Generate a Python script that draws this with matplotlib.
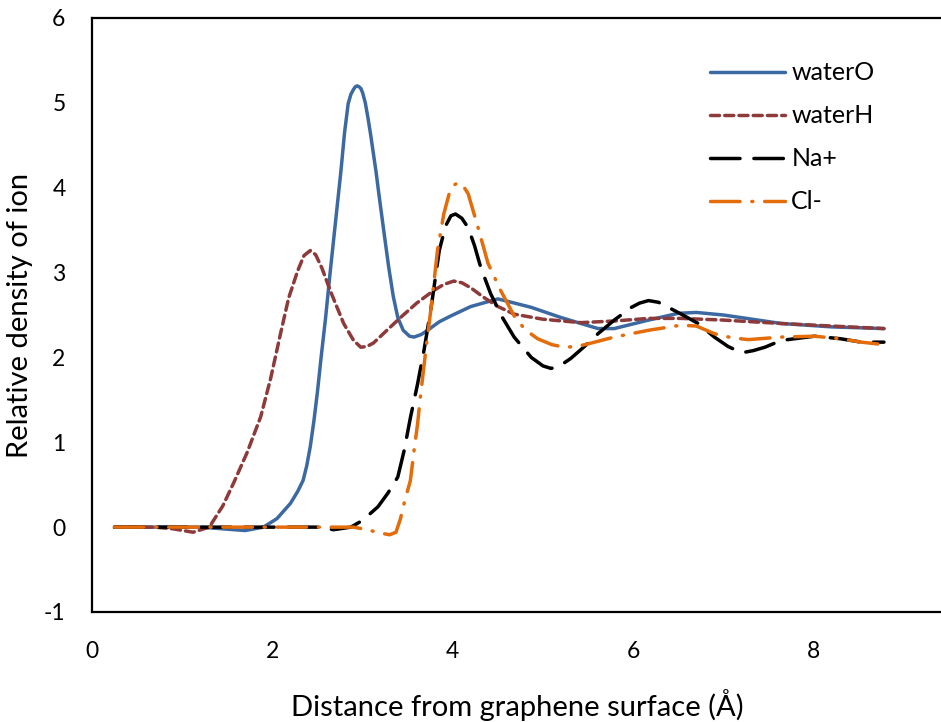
import matplotlib
matplotlib.use("Agg")
import matplotlib.pyplot as plt

plt.rcParams['font.family'] = ['Lato', 'DejaVu Sans']
plt.rcParams['axes.unicode_minus'] = False

# distance from graphene surface (Angstrom) and relative density for each species
water_o_x = [0.25, 0.8, 1.2, 1.45, 1.7, 1.9, 2.05, 2.2, 2.28, 2.34, 2.38, 2.42, 2.46, 2.5,
             2.54, 2.59, 2.64, 2.68, 2.72, 2.76, 2.8, 2.84, 2.87, 2.9, 2.92, 2.94, 2.96,
             2.98, 3.0, 3.03, 3.06, 3.09, 3.12, 3.15, 3.18, 3.24, 3.29, 3.34, 3.39, 3.45,
             3.52, 3.57, 3.65, 3.72, 3.85, 3.98, 4.2, 4.5, 4.87, 5.2, 5.42, 5.61, 5.79,
             6.17, 6.5, 6.7, 7.0, 7.64, 8.2, 8.78]
water_o_y = [0, 0, 0, -0.02, -0.04, 0.0, 0.1, 0.28, 0.42, 0.55, 0.72, 0.95, 1.25, 1.6,
             2.0, 2.47, 3.0, 3.4, 3.8, 4.2, 4.65, 4.99, 5.1, 5.16, 5.19, 5.2, 5.19,
             5.17, 5.12, 5.0, 4.82, 4.62, 4.4, 4.18, 3.93, 3.45, 3.06, 2.72, 2.47, 2.32,
             2.25, 2.24, 2.27, 2.32, 2.42, 2.49, 2.6, 2.69, 2.59, 2.47, 2.4, 2.34, 2.34,
             2.44, 2.52, 2.53, 2.5, 2.4, 2.36, 2.34]

water_h_x = [0.25, 0.7, 0.9, 1.12, 1.3, 1.45, 1.57, 1.72, 1.87, 1.98, 2.09, 2.18, 2.28,
             2.35, 2.42, 2.48, 2.55, 2.64, 2.79, 2.9, 2.98, 3.05, 3.12, 3.25, 3.42, 3.6,
             3.79, 3.9, 4.01, 4.1, 4.2, 4.34, 4.5, 4.68, 5.0, 5.42, 5.8, 6.17, 6.53, 7.0,
             7.64, 8.2, 8.78]
water_h_y = [0, 0, -0.02, -0.06, 0.0, 0.25, 0.52, 0.88, 1.3, 1.75, 2.28, 2.7, 3.02,
             3.2, 3.26, 3.21, 3.05, 2.79, 2.4, 2.2, 2.12, 2.13, 2.17, 2.3, 2.47, 2.64,
             2.79, 2.86, 2.9, 2.88, 2.82, 2.71, 2.6, 2.51, 2.45, 2.41, 2.43, 2.46, 2.46,
             2.44, 2.4, 2.37, 2.34]

na_x = [0.25, 1.0, 2.0, 2.5, 2.68, 2.87, 3.0, 3.17, 3.28, 3.39, 3.46, 3.53, 3.61, 3.68,
        3.76, 3.85, 3.92, 3.98, 4.03, 4.1, 4.17, 4.24, 4.31, 4.42, 4.55, 4.68, 4.87,
        5.0, 5.09, 5.2, 5.31, 5.45, 5.61, 5.79, 5.98, 6.07, 6.17, 6.28, 6.39, 6.55,
        6.72, 6.9, 7.05, 7.15, 7.23, 7.33, 7.46, 7.64, 8.01, 8.3, 8.53, 8.78]
na_y = [0, 0, 0, 0, -0.03, 0.0, 0.08, 0.24, 0.4, 0.59, 0.9, 1.29, 1.69, 2.08,
        2.59, 3.26, 3.55, 3.67, 3.69, 3.64, 3.53, 3.32, 3.06, 2.75, 2.47, 2.24, 2.0,
        1.9, 1.87, 1.91, 1.99, 2.12, 2.28, 2.44, 2.59, 2.64, 2.67, 2.65, 2.59, 2.5,
        2.4, 2.24, 2.13, 2.08, 2.06, 2.08, 2.12, 2.2, 2.25, 2.22, 2.18, 2.18]

cl_x = [0.25, 1.0, 2.0, 2.9, 3.05, 3.2, 3.3, 3.37, 3.42, 3.46, 3.53, 3.57, 3.61, 3.64,
        3.7, 3.76, 3.83, 3.9, 3.96, 4.01, 4.06, 4.11, 4.17, 4.28, 4.39, 4.53, 4.68,
        4.8, 4.94, 5.1, 5.24, 5.38, 5.5, 5.79, 6.17, 6.53, 6.7, 6.9, 7.1, 7.28, 7.64,
        8.01, 8.3, 8.53, 8.78]
cl_y = [0, 0, 0, 0, -0.03, -0.07, -0.09, -0.06, 0.1, 0.28, 0.55, 0.9, 1.22, 1.53,
        2.08, 2.59, 3.26, 3.69, 3.93, 4.03, 4.06, 4.03, 3.93, 3.53, 3.11, 2.79, 2.49,
        2.33, 2.22, 2.15, 2.12, 2.13, 2.16, 2.24, 2.32, 2.38, 2.37, 2.28, 2.23, 2.21,
        2.24, 2.25, 2.22, 2.18, 2.15]

x_ticks = [0, 2, 4, 6, 8]
y_ticks = [-1, 0, 1, 2, 3, 4, 5, 6]

fig = plt.figure(figsize=(9.41, 7.22), dpi=100)
ax = fig.add_axes([92 / 941, 1 - 612 / 722, 1 - 92 / 941 + 0.002, (612 - 18) / 722])

lw = 2.5
ax.plot(water_o_x, water_o_y, color='#3C69A2', lw=lw, label='waterO',
        solid_capstyle='round', solid_joinstyle='round')
ax.plot(water_h_x, water_h_y, color='#8E3A3A', lw=lw, label='waterH',
        linestyle=(0, (2.6, 1.5)), dash_capstyle='round', dash_joinstyle='round')
ax.plot(na_x, na_y, color='black', lw=lw, label='Na+',
        linestyle=(0, (8.5, 4.0)), dash_capstyle='round', dash_joinstyle='round')
ax.plot(cl_x, cl_y, color='#E46C0A', lw=lw, label='Cl-',
        linestyle=(0, (8.5, 3.4, 0.3, 3.4)), dash_capstyle='round', dash_joinstyle='round')

ax.set_xlim(0, (941 - 92) / 90)
ax.set_ylim(-1, 6)
ax.set_xticks(x_ticks)
ax.set_yticks(y_ticks)
ax.tick_params(length=0, labelsize=16.5)
ax.tick_params(axis='x', pad=21)
ax.tick_params(axis='y', pad=19)
for s in ['left', 'top', 'bottom']:
    ax.spines[s].set_linewidth(1.6)
ax.spines['right'].set_visible(False)

ax.set_xlabel('Distance from graphene surface (Å)', fontsize=21, labelpad=19)
ax.set_ylabel('Relative density of ion', fontsize=21, labelpad=8)

leg = ax.legend(loc='upper left', bbox_to_anchor=(0.7, 0.965), frameon=False,
                fontsize=18, handlelength=3.0, handletextpad=0.25, labelspacing=0.8)

fig.savefig('out.png', dpi=100)
